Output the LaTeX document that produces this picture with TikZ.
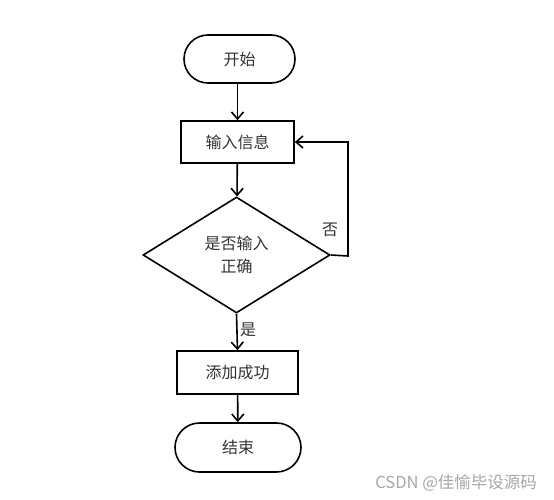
\documentclass[tikz,border=0pt]{standalone}
\usepackage{fontspec}
\newfontfamily\cjk{Noto Sans CJK SC}
\usetikzlibrary{shapes.geometric,shapes.misc,arrows.meta}
\begin{document}
\begin{tikzpicture}[x=1pt,y=-1pt,
  line width=1.6pt,
  every node/.style={font=\cjk\fontsize{16}{20}\selectfont, text=black!80},
  term/.style={draw, rounded rectangle, minimum width=111pt, minimum height=48pt, inner sep=0pt},
  proc/.style={draw, rectangle, minimum height=42pt, inner sep=0pt},
  dec/.style={draw, diamond, minimum width=187pt, minimum height=116pt, inner sep=0pt, align=center},
  arr/.style={-{Straight Barb[length=7pt,width=12pt]}, line width=1.6pt}
]
\useasboundingbox (0,0) rectangle (554,500);
\node[term] (start) at (239.5,59) {开始};
\node[proc, minimum width=113pt] (input) at (237.5,142) {输入信息};
\node[dec] (check) at (236.5,255) {是否输入\\[3pt]正确};
\node[proc, minimum width=121pt, minimum height=43pt] (ok) at (237.5,372.5) {添加成功};
\node[term, minimum width=126pt, minimum height=49pt] (end) at (238,447.5) {结束};
\coordinate (loopb) at (348,256);
\coordinate (loopt) at (348,142);
\draw[arr] (start.south -| input.north) -- (input.north);
\draw[arr] (input) -- (check);
\draw[arr] (check.east) -- (loopb) -- (loopt) -- (input.east);
\node (no) at (330,230) {否};
\draw[arr] (check.south) -- (ok.north);
\node (yes) at (248,330) {是};
\draw[arr] (ok) -- (end);
\node[text=black!35, font=\cjk\fontsize{16.5}{20}\selectfont, anchor=east] (wm) at (541,483) {CSDN @佳愉毕设源码};
\end{tikzpicture}
\end{document}
